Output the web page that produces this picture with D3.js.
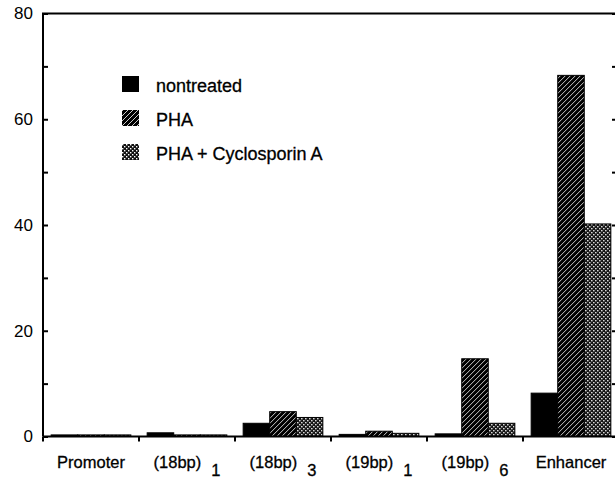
<!DOCTYPE html>
<html>
<head>
<meta charset="utf-8">
<script src="https://d3js.org/d3.v7.min.js"></script>
<style>
  body { margin: 0; background: #fff; }
  svg text { font-family: "Liberation Sans", Arial, Helvetica, sans-serif; fill: #000; }
</style>
</head>
<body>
<svg id="chart" width="615" height="480"></svg>
<script>
// data
const catNames = ["Promoter", "(18bp)", "(18bp)", "(19bp)", "(19bp)", "Enhancer"];
const catSubs  = ["", "1", "3", "1", "6", ""];
const seriesNames = ["nontreated", "PHA", "PHA + Cyclosporin A"];
const nontreated = [0.3, 0.7, 2.5, 0.4, 0.5, 8.2];
const pha        = [0.3, 0.3, 4.7, 1.0, 14.7, 68.3];
const phaCsa     = [0.3, 0.3, 3.6, 0.6, 2.5, 40.2];
const yLabelTicks = [0, 20, 40, 60, 80];
const yMinorTicks = [10, 30, 50, 70];

const svg = d3.select("#chart");
const plotLeft = 43, plotRight = 619, plotTop = 13.5, plotBottom = 436.5;

const x = d3.scaleBand()
  .domain(d3.range(catNames.length))
  .range([plotLeft, plotRight])
  .paddingInner(0.17)
  .paddingOuter(0.085);

const x1 = d3.scaleBand()
  .domain(d3.range(seriesNames.length))
  .range([0, x.bandwidth()]);

const y = d3.scaleLinear().domain([0, 80]).range([plotBottom, plotTop]);

// fill patterns
const defs = svg.append("defs");
const hatch = defs.append("pattern").attr("id", "hatch")
  .attr("patternUnits", "userSpaceOnUse").attr("width", 5).attr("height", 5);
hatch.append("rect").attr("width", 5).attr("height", 5).attr("fill", "#000");
hatch.append("path")
  .attr("d", "M0,5 L5,0 M-1,1 L1,-1 M4,6 L6,4")
  .attr("stroke", "#fff").attr("stroke-width", 0.8);

const dots = defs.append("pattern").attr("id", "dots")
  .attr("patternUnits", "userSpaceOnUse").attr("width", 4).attr("height", 4);
dots.append("rect").attr("width", 4).attr("height", 4).attr("fill", "#111");
dots.append("rect").attr("x", 0).attr("y", 0).attr("width", 1.4).attr("height", 1.4).attr("fill", "#fff");
dots.append("rect").attr("x", 2).attr("y", 2).attr("width", 1.4).attr("height", 1.4).attr("fill", "#fff");

const fills = ["#000", "url(#hatch)", "url(#dots)"];
const values = [nontreated, pha, phaCsa];

// bars
const groups = svg.append("g").selectAll("g")
  .data(catNames.map((c, i) => i))
  .join("g")
  .attr("transform", i => `translate(${x(i)},0)`);

groups.selectAll("rect")
  .data(i => values.map((v, s) => ({ s: s, v: v[i] })))
  .join("rect")
  .attr("x", d => x1(d.s))
  .attr("y", d => y(d.v))
  .attr("width", x1.bandwidth())
  .attr("height", d => y(0) - y(d.v))
  .attr("fill", d => fills[d.s])
  .attr("stroke", "#000")
  .attr("stroke-width", 1);

// frame: left, top and bottom lines
svg.append("path")
  .attr("d", `M${plotLeft},${plotBottom} V${plotTop} H615 M${plotLeft},${plotBottom} H615`)
  .attr("fill", "none").attr("stroke", "#000").attr("stroke-width", 2);

// left axis
const yAxis = d3.axisLeft(y)
  .tickValues(yLabelTicks.concat(yMinorTicks))
  .tickSizeInner(-5).tickSizeOuter(0).tickPadding(10)
  .tickFormat(d => yLabelTicks.includes(d) ? d : "");
const ya = svg.append("g").attr("transform", `translate(${plotLeft},0)`).call(yAxis);
ya.select(".domain").remove();
ya.selectAll("line").attr("stroke-width", 2);
ya.selectAll("text").style("font-size", "17px");

// right axis ticks (axis line falls just off the page)
const yRight = d3.axisLeft(y)
  .tickValues(yLabelTicks.concat(yMinorTicks))
  .tickSize(5).tickFormat("");
const yr = svg.append("g").attr("transform", "translate(617,0)").call(yRight);
yr.select(".domain").remove();
yr.selectAll("line").attr("stroke-width", 2);

// bottom ticks at category boundaries
svg.append("g").selectAll("line")
  .data(d3.range(catNames.length + 1))
  .join("line")
  .attr("x1", i => plotLeft + i * x.step()).attr("x2", i => plotLeft + i * x.step())
  .attr("y1", plotBottom).attr("y2", plotBottom + 5)
  .attr("stroke", "#000").attr("stroke-width", 2);

// category labels with subscripts
const labels = svg.append("g").selectAll("text")
  .data(catNames.map((c, i) => i))
  .join("text")
  .attr("x", i => x(i) + x.bandwidth() / 2)
  .attr("y", 468)
  .attr("text-anchor", "middle")
  .attr("stroke", "#000").attr("stroke-width", 0.3)
  .style("font-size", "16.5px");
labels.append("tspan").text(i => catNames[i]);
labels.append("tspan")
  .attr("dx", i => catSubs[i] ? 10 : 0)
  .attr("dy", 8)
  .text(i => catSubs[i]);

// legend
const legend = svg.append("g").selectAll("g")
  .data(seriesNames.map((n, i) => i))
  .join("g")
  .attr("transform", i => `translate(122,${92 + i * 34})`);
legend.append("rect")
  .attr("x", 0).attr("y", -16).attr("width", 17).attr("height", 16)
  .attr("fill", i => fills[i]);
legend.append("text")
  .attr("x", 34).attr("y", 0)
  .attr("stroke", "#000").attr("stroke-width", 0.3)
  .style("font-size", "18px")
  .text(i => seriesNames[i]);
</script>
</body>
</html>
